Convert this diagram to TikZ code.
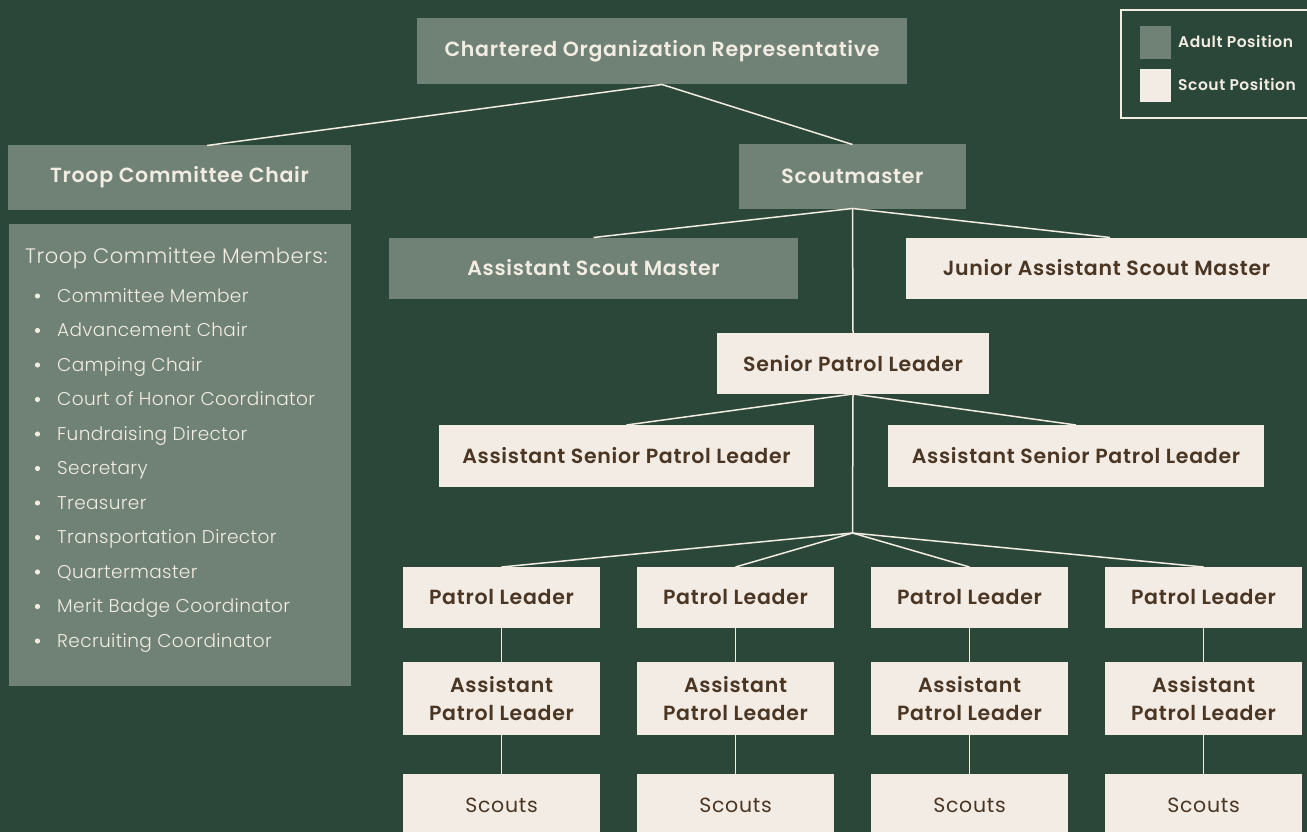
\documentclass[tikz,border=0pt]{standalone}
\usepackage{fontspec}
\setmainfont{Poppins}[BoldFont={Poppins SemiBold}]
\newfontfamily\lightfont{Poppins Light}
\usetikzlibrary{calc}
\definecolor{bg}{HTML}{2A4739}
\definecolor{adult}{HTML}{6F8275}
\definecolor{scout}{HTML}{F3ECE5}
\definecolor{brown}{HTML}{4A3622}
\definecolor{cream}{HTML}{F2ECE3}
\newcommand{\lblfont}{\fontsize{20.5}{28}\selectfont\bfseries\addfontfeature{LetterSpace=3.5}}
\tikzset{
  box/.style={inner sep=0pt, outer sep=0pt, align=center, font=\lblfont},
  adultbox/.style={box, fill=adult, text=cream},
  scoutbox/.style={box, fill=scout, text=brown},
  link/.style={draw=cream, line width=1.5pt},
  item/.style={anchor=base west, inner sep=0pt, text=cream, font=\lightfont\fontsize{18.5}{20}\selectfont\addfontfeature{LetterSpace=2}},
  legtext/.style={anchor=west, inner sep=0pt, text=cream, font=\fontsize{15.5}{16}\selectfont\bfseries\addfontfeature{LetterSpace=3.5}}
}
\begin{document}
\begin{tikzpicture}[x=1pt,y=-1pt]
\useasboundingbox (0,0) rectangle (1307,832);
\fill[bg] (0,0) rectangle (1307,832);
% top
\node[adultbox, minimum width=490pt, minimum height=66pt] (cor) at (662,51.5) {Chartered Organization Representative};
\node[adultbox, minimum width=343pt, minimum height=64pt] (tcc) at (179.5,177.5) {Troop Committee Chair};
\node[adultbox, minimum width=227pt, minimum height=64pt] (sm) at (852.5,176.5) {Scoutmaster};
\node[adultbox, minimum width=409pt, minimum height=61pt] (asm) at (593.5,268) {Assistant Scout Master};
\node[scoutbox, minimum width=401pt, minimum height=61pt] (jasm) at (1106.5,268) {Junior Assistant Scout Master};
\node[scoutbox, minimum width=272pt, minimum height=61pt] (spl) at (853,363.5) {Senior Patrol Leader};
\node[scoutbox, minimum width=375pt, minimum height=62pt] (aspla) at (626.5,456) {Assistant Senior Patrol Leader};
\node[scoutbox, minimum width=376pt, minimum height=62pt] (asplb) at (1076,456) {Assistant Senior Patrol Leader};
\coordinate (branch) at (852.5,533);
% patrols
\foreach \i/\x in {1/501.5,2/735.5,3/969.5,4/1203.5}{
  \node[scoutbox, minimum width=197pt, minimum height=61pt] (pl\i) at (\x,597.5) {Patrol Leader};
  \node[scoutbox, minimum width=197pt, minimum height=73pt] (apl\i) at (\x,698.5) {Assistant\\Patrol Leader};
  \node[scoutbox, minimum width=197pt, minimum height=64pt, font=\fontsize{20.5}{23}\selectfont\addfontfeature{LetterSpace=3.5}] (sc\i) at (\x,805.5) {Scouts};
  \draw[link] (branch) -- (pl\i.north);
  \draw[link] (pl\i.south) -- (apl\i.north);
  \draw[link] (apl\i.south) -- (sc\i.north);
}
% connectors
\coordinate (tcctop) at ([xshift=27.5pt]tcc.north);
\coordinate (jasmtop) at ([xshift=3.5pt]jasm.north);
\draw[link] (tcctop) -- (cor.south) -- (sm.north);
\draw[link] (asm.north) -- (sm.south) -- (jasmtop);
\draw[link] (sm.south) -- (spl.north);
\draw[link] (aspla.north) -- (spl.south) -- (asplb.north);
\draw[link] (spl.south) -- (branch);
% committee members
\node[fill=adult, inner sep=0pt, minimum width=342pt, minimum height=462pt] (members) at (180,455) {};
\node[item, font=\lightfont\fontsize{21}{24}\selectfont\addfontfeature{LetterSpace=2.5}] (mhead) at (25,263) {Troop Committee Members:};
\foreach \n/\t [count=\k] in {a/Committee Member,b/Advancement Chair,c/Camping Chair,d/Court of Honor Coordinator,e/Fundraising Director,f/Secretary,g/Treasurer,h/Transportation Director,i/Quartermaster,j/Merit Badge Coordinator,k/Recruiting Coordinator}{
  \fill[cream] (37.5,{296+(\k-1)*34.5}) circle (2.6pt);
  \node[item] (it\n) at (57,{302+(\k-1)*34.5}) {\t};
}
% legend
\draw[cream, line width=2pt] (1121,10) rectangle (1316,118);
\node[fill=adult, inner sep=0pt, minimum width=31pt, minimum height=33pt] (lga) at (1155.5,42.5) {};
\node[fill=scout, inner sep=0pt, minimum width=31pt, minimum height=33pt] (lgs) at (1155.5,85.5) {};
\node[legtext] (lgat) at (1178,41.5) {Adult Position};
\node[legtext] (lgst) at (1178,84) {Scout Position};
\end{tikzpicture}
\end{document}
